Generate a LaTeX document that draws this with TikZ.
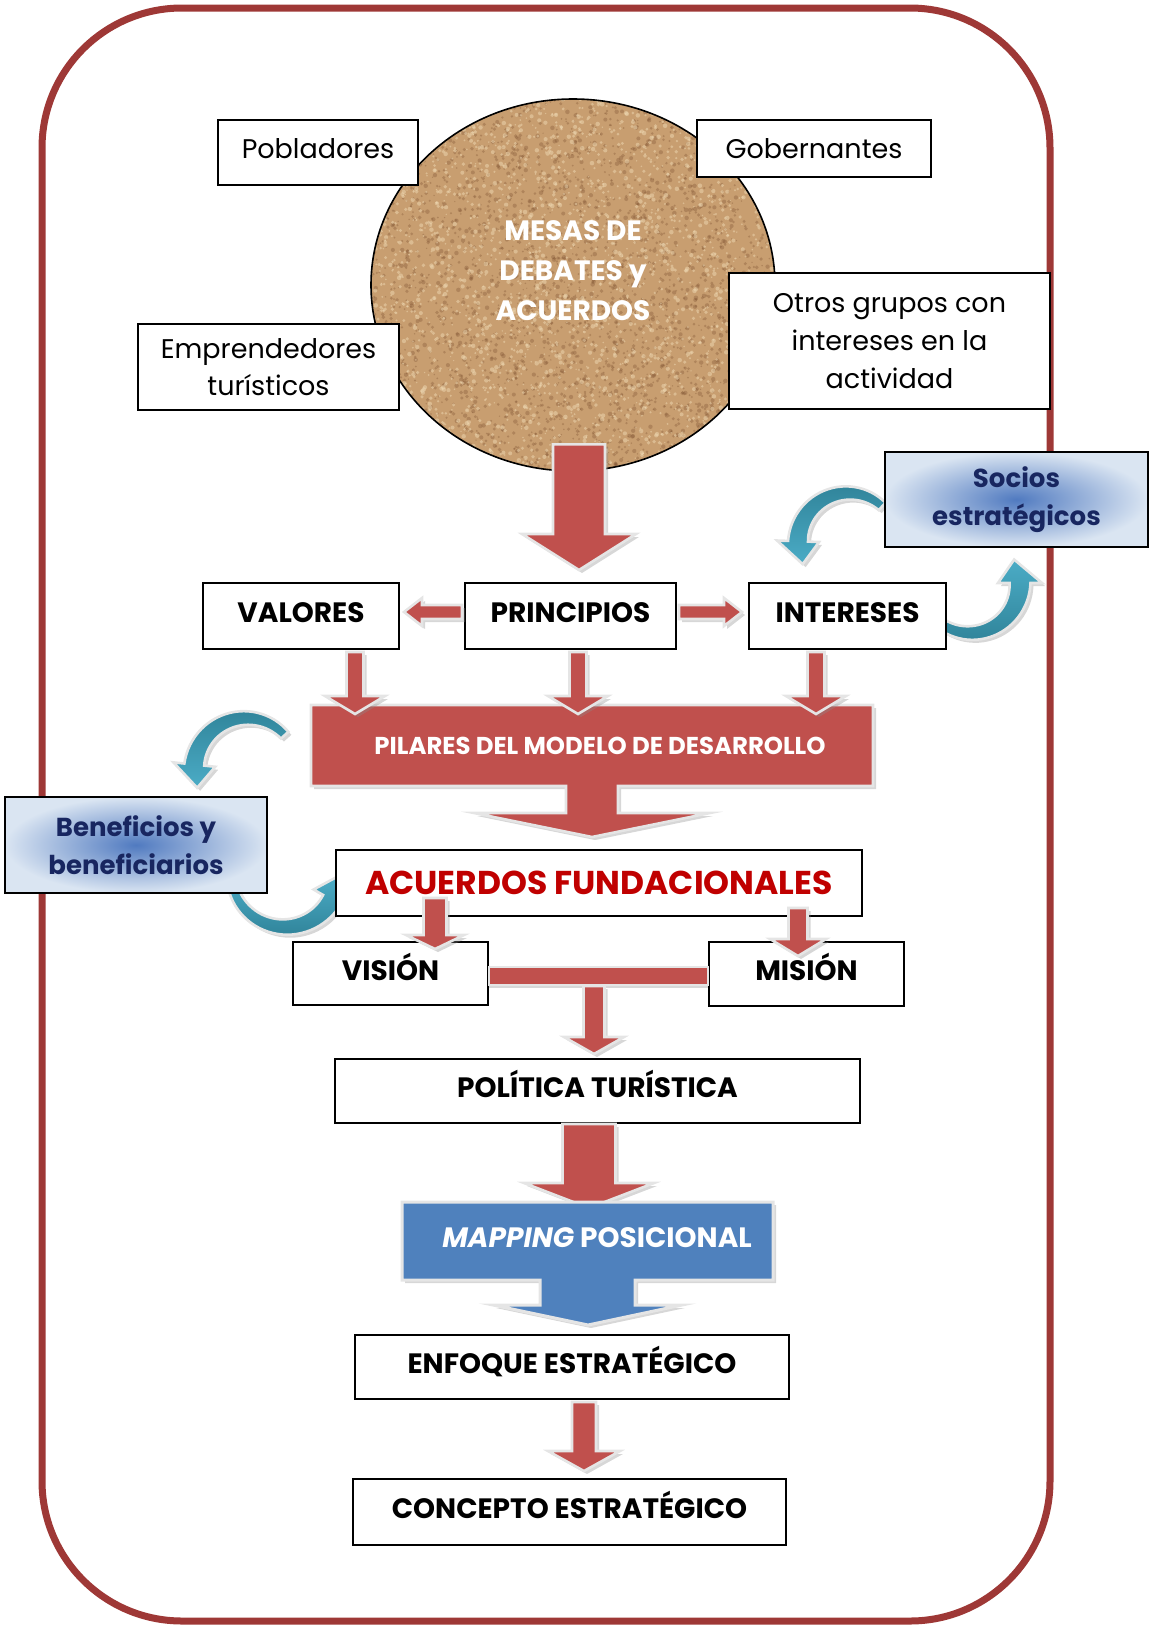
\documentclass[tikz,border=0pt]{standalone}
\usepackage{fontspec}
\setmainfont{Poppins}
\usetikzlibrary{calc,shapes.geometric}

\definecolor{brick}{RGB}{192,80,77}
\definecolor{framered}{RGB}{158,56,54}
\definecolor{ofblue}{RGB}{79,129,189}
\definecolor{tealA}{RGB}{75,172,198}
\definecolor{tealB}{RGB}{49,133,155}
\definecolor{navy}{RGB}{24,38,96}
\definecolor{deepred}{RGB}{192,0,0}
\definecolor{cork}{RGB}{200,158,112}
\definecolor{corkdark}{RGB}{130,86,52}
\definecolor{corklight}{RGB}{238,216,178}
\definecolor{softblue}{RGB}{218,229,242}
\definecolor{midblue}{RGB}{80,122,192}

\newcommand\fsreg{\fontsize{13.5}{18.8}\selectfont}
\newcommand\fslab{\fontsize{14}{19}\selectfont\bfseries}
\newcommand\fsmesa{\fontsize{14}{20}\selectfont\bfseries}
\newcommand\fspil{\fontsize{12.2}{14}\selectfont\bfseries}
\newcommand\fsacu{\fontsize{16.5}{19}\selectfont\bfseries}
\newcommand\fssoc{\fontsize{13}{19}\selectfont\bfseries}

% straight block arrow from #2 to #3 (tip); #4 shaft half width, #5 head half width,
% #6 head length (pt); #7/#8 offset (pt)
\newcommand\arrowshape[8]{%
  \path[#1] let \p1=(#2), \p2=(#3),
    \n1={veclen(\x2-\x1,\y2-\y1)}, \n2={(\x2-\x1)/\n1}, \n3={(\y2-\y1)/\n1}, \n4={\n1-(#6)}
  in ({\x1-(\n3)*(#4)+(#7)},{\y1+(\n2)*(#4)+(#8)})
  -- ({\x1+(\n2)*(\n4)-(\n3)*(#4)+(#7)},{\y1+(\n3)*(\n4)+(\n2)*(#4)+(#8)})
  -- ({\x1+(\n2)*(\n4)-(\n3)*(#5)+(#7)},{\y1+(\n3)*(\n4)+(\n2)*(#5)+(#8)})
  -- ({\x2+(#7)},{\y2+(#8)})
  -- ({\x1+(\n2)*(\n4)+(\n3)*(#5)+(#7)},{\y1+(\n3)*(\n4)-(\n2)*(#5)+(#8)})
  -- ({\x1+(\n2)*(\n4)+(\n3)*(#4)+(#7)},{\y1+(\n3)*(\n4)-(\n2)*(#4)+(#8)})
  -- ({\x1+(\n3)*(#4)+(#7)},{\y1-(\n2)*(#4)+(#8)}) -- cycle;}
\newcommand\blockarrow[6][redarrow]{%
  \arrowshape{arrowshadow}{#2}{#3}{#4}{#5}{#6}{1.5}{-1.5}%
  \arrowshape{#1}{#2}{#3}{#4}{#5}{#6}{0}{0}}

% curved (circular) arrow: #1 style, #2/#3 centre, #4 radius, #5 tail angle,
% #6 head-base angle, #7 tip angle, #8 half width of the band
\newcommand\curvedarrow[8]{%
  \path[arrowshadow, shift={(1.5pt,-1.5pt)}]
    plot[domain=#5:#6, samples=30] ({#2+(#4+#8*(0.5+0.5*(\x-(#5))/((#6)-(#5))))*cos(\x)},{#3+(#4+#8*(0.5+0.5*(\x-(#5))/((#6)-(#5))))*sin(\x)})
    -- ({#2+(#4+2.1*#8)*cos(#6)},{#3+(#4+2.1*#8)*sin(#6)})
    -- ({#2+#4*cos(#7)},{#3+#4*sin(#7)})
    -- ({#2+(#4-2.1*#8)*cos(#6)},{#3+(#4-2.1*#8)*sin(#6)})
    -- plot[domain=#6:#5, samples=30] ({#2+(#4-#8*(0.5+0.5*(\x-(#5))/((#6)-(#5))))*cos(\x)},{#3+(#4-#8*(0.5+0.5*(\x-(#5))/((#6)-(#5))))*sin(\x)})
    -- cycle;
  \path[#1]
    plot[domain=#5:#6, samples=30] ({#2+(#4+#8*(0.5+0.5*(\x-(#5))/((#6)-(#5))))*cos(\x)},{#3+(#4+#8*(0.5+0.5*(\x-(#5))/((#6)-(#5))))*sin(\x)})
    -- ({#2+(#4+2.1*#8)*cos(#6)},{#3+(#4+2.1*#8)*sin(#6)})
    -- ({#2+#4*cos(#7)},{#3+#4*sin(#7)})
    -- ({#2+(#4-2.1*#8)*cos(#6)},{#3+(#4-2.1*#8)*sin(#6)})
    -- plot[domain=#6:#5, samples=30] ({#2+(#4-#8*(0.5+0.5*(\x-(#5))/((#6)-(#5))))*cos(\x)},{#3+(#4-#8*(0.5+0.5*(\x-(#5))/((#6)-(#5))))*sin(\x)})
    -- cycle;}

\begin{document}
\begin{tikzpicture}[x=0.5pt, y=-0.5pt,
  box/.style={draw=black, line width=1pt, fill=white, inner sep=0pt, align=center},
  lbl/.style={box, font=\fslab, text height=10pt, text depth=3.5pt},
  gradbox/.style={draw=black, line width=1.2pt, inner color=midblue, outer color=softblue,
    inner sep=0pt, align=center, text=navy, font=\fssoc},
  redarrow/.style={fill=brick, draw=black!10, line width=1.3pt, line join=miter},
  blueshape/.style={fill=ofblue, draw=black!10, line width=1.5pt, line join=miter},
  arrowshadow/.style={fill=black!45, opacity=0.35},
  tealdown/.style={top color=tealB, bottom color=tealA, draw=black!10, line width=1.3pt},
  tealup/.style={top color=tealA, bottom color=tealB, draw=black!10, line width=1.3pt}]
\useasboundingbox (0,0) rectangle (1149,1628);

% outer frame
\draw[framered, line width=3.5pt, rounded corners=70pt] (42,8) rectangle (1050,1621);

% round debate table with a cork texture
\node[ellipse, minimum width=202pt, minimum height=186pt, inner sep=0pt] (mesa) at (573,285) {};
\begin{scope}
  \clip (mesa.center) ellipse [x radius=101pt, y radius=93pt];
  \fill[cork] (mesa.center) ellipse [x radius=101pt, y radius=93pt];
  \pgfmathsetseed{4}
  \foreach \i in {1,...,3200}{
    \fill[corkdark, opacity=0.35] ({371+404*rnd},{99+372*rnd}) circle [radius={0.35pt+0.8pt*rnd}];
  }
  \foreach \i in {1,...,2800}{
    \fill[corklight, opacity=0.5] ({371+404*rnd},{99+372*rnd}) circle [radius={0.35pt+0.8pt*rnd}];
  }
\end{scope}
\draw[line width=0.8pt] (mesa.center) ellipse [x radius=101pt, y radius=93pt];
\node[font=\fsmesa, text=white, align=center] (mesalbl) at (573,271) {MESAS DE\\DEBATES y\\ACUERDOS};

% participants
\node[box, minimum width=100pt, minimum height=32.5pt, font=\fsreg, text depth=4pt] (pobl) at (318,152.5) {Pobladores};
\node[box, minimum width=117pt, minimum height=28.5pt, font=\fsreg] (gober) at (814,148.5) {Gobernantes};
\node[box, minimum width=130.5pt, minimum height=43pt, font=\fsreg] (empr) at (268.5,367) {Emprendedores\\turísticos};
\node[box, minimum width=160.5pt, minimum height=68pt, font=\fsreg] (otros) at (889.5,341) {Otros grupos con\\intereses en la\\actividad};

% circular arrows
\curvedarrow{tealdown}{848}{543}{50}{-47}{-178}{-205}{10}
\curvedarrow{tealup}{970}{583}{50}{128}{0}{-28}{10.5}
\curvedarrow{tealdown}{246}{770}{52}{-42}{-174}{-200}{10}
\curvedarrow{tealup}{285}{873}{54}{160}{30}{3}{10}

% second row
\node[lbl, minimum width=98pt, minimum height=33pt] (valores) at (301,616) {VALORES};
\node[lbl, minimum width=105.5pt, minimum height=33pt] (principios) at (570.5,616) {PRINCIPIOS};
\node[lbl, minimum width=98.5pt, minimum height=33pt] (intereses) at (847.5,616) {INTERESES};
\node[gradbox, minimum width=131.5pt, minimum height=47.5pt] (socios) at (1016.5,499.5) {Socios\\estratégicos};

\blockarrow{$(mesa.south)+(6,-27)$}{$(principios.north)+(8.5,-12)$}{13}{28.5}{18}
\blockarrow{$(principios.west)+(-2,-4)$}{$(valores.east)+(4,-4)$}{3.5}{7}{9}
\blockarrow{$(principios.east)+(2,-4)$}{$(intereses.west)+(-6,-4)$}{3.5}{7}{9}

% pillars of the model
\path[arrowshadow, shift={(1.5pt,-1.5pt)}] (311,705) -- (873,705) -- (873,786) -- (618,786) -- (618,813) -- (710,813) -- (592,837) -- (474,813) -- (566,813) -- (566,786) -- (311,786) -- cycle;
\path[redarrow] (311,705) -- (873,705) -- (873,786) -- (618,786) -- (618,813) -- (710,813) -- (592,837) -- (474,813) -- (566,813) -- (566,786) -- (311,786) -- cycle;
\node[font=\fspil, text=white, minimum width=281pt, minimum height=40.5pt, inner sep=0pt] (pilares) at (600,746) {PILARES DEL MODELO DE DESARROLLO};

\blockarrow{$(valores.south)+(54,2)$}{$(valores.south)+(54,64)$}{4.25}{15}{9}
\blockarrow{$(principios.south)+(7.5,2)$}{$(principios.south)+(7.5,64)$}{4.25}{15}{9}
\blockarrow{$(intereses.south)+(-31.5,2)$}{$(intereses.south)+(-31.5,64)$}{4.25}{15}{9}

\node[gradbox, minimum width=131pt, minimum height=48pt] (benef) at (136,845) {Beneficios y\\beneficiarios};

% foundational agreements
\node[box, minimum width=263pt, minimum height=33pt, font=\fsacu, text=deepred] (acuerdos) at (599,883) {ACUERDOS FUNDACIONALES};
\node[lbl, minimum width=97.5pt, minimum height=31.5pt] (vision) at (390.5,973.5) {VISIÓN};
\node[lbl, minimum width=97.5pt, minimum height=32pt] (mision) at (806.5,974) {MISIÓN};

\blockarrow{$(acuerdos.south)+(-164,-19)$}{$(vision.north)+(44.5,8)$}{5.75}{14.5}{7}
\blockarrow{$(acuerdos.south)+(199,-9)$}{$(mision.north)+(-8.5,15)$}{4.75}{14}{8.5}

% link between vision and mission
\path[arrowshadow, shift={(1.5pt,-1.5pt)}] (vision.east|-0,967) rectangle (mision.west|-0,985);
\path[redarrow] (vision.east|-0,967) rectangle (mision.west|-0,985);
\coordinate (link) at (594,986);

\node[lbl, minimum width=262.5pt, minimum height=32pt] (politica) at (597.5,1091) {POLÍTICA TURÍSTICA};
\blockarrow{link}{$(politica.north)+(-3.5,-4)$}{5.25}{15}{8.5}
\blockarrow{$(politica.south)+(-8.5,0)$}{$(politica.south)+(-8.5,84)$}{13.25}{32.5}{12.5}

% positional mapping
\path[arrowshadow, shift={(1.5pt,-1.5pt)}] (402,1202) -- (773,1202) -- (773,1280) -- (635,1280) -- (635,1305) -- (682,1305) -- (588,1325) -- (493,1305) -- (540,1305) -- (540,1280) -- (402,1280) -- cycle;
\path[blueshape] (402,1202) -- (773,1202) -- (773,1280) -- (635,1280) -- (635,1305) -- (682,1305) -- (588,1325) -- (493,1305) -- (540,1305) -- (540,1280) -- (402,1280) -- cycle;
\node[font=\fslab, text=white, minimum width=185.5pt, minimum height=39pt, inner sep=0pt] (mapping) at (597,1238) {\textit{MAPPING} POSICIONAL};

\node[lbl, minimum width=217pt, minimum height=32pt] (enfoque) at (572,1367) {ENFOQUE ESTRATÉGICO};
\node[lbl, minimum width=216.5pt, minimum height=33pt] (concepto) at (569.5,1512) {CONCEPTO ESTRATÉGICO};
\blockarrow{$(enfoque.south)+(12,2)$}{$(concepto.north)+(14.5,-7)$}{6}{18}{10}

\end{tikzpicture}
\end{document}
